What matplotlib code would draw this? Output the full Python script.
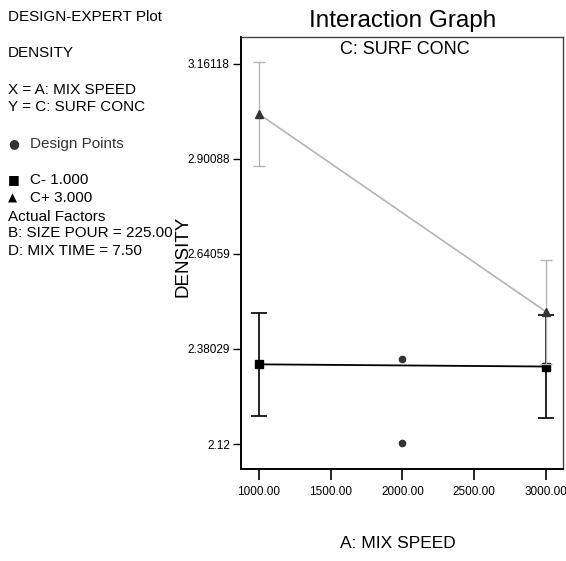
import matplotlib.pyplot as plt

# data
speeds = [1000, 3000]
c_minus = [2.338, 2.332]
c_minus_err = [0.141, 0.142]
c_plus = [3.023, 2.482]
c_plus_err = [0.142, 0.142]
design_x = [2000, 2000]
design_y = [2.353, 2.122]

y_ticks = [2.12, 2.38029, 2.64059, 2.90088, 3.16118]
y_tick_labels = ['2.12', '2.38029', '2.64059', '2.90088', '3.16118']
x_ticks = [1000, 1500, 2000, 2500, 3000]
x_tick_labels = ['1000.00', '1500.00', '2000.00', '2500.00', '3000.00']

plt.rcParams['font.family'] = ['Liberation Sans', 'DejaVu Sans']

W, H = 566, 561
fig = plt.figure(figsize=(W / 100, H / 100), dpi=100)
ax = fig.add_axes([241 / W, 1 - 469 / H, (563 - 241) / W, (469 - 37) / H])


def px(x, y):
    # pixel position -> figure fraction
    return x / W, 1 - y / H


# C- (black, squares)
ax.errorbar(speeds, c_minus, yerr=c_minus_err, color='black', lw=1.3,
            capsize=5.5, capthick=1.2, elinewidth=1.2, marker='s',
            markersize=5.5, zorder=2)
# C+ (light grey, triangles)
ax.errorbar(speeds, c_plus, yerr=c_plus_err, color='#b4b4b4', lw=1.2,
            capsize=4, capthick=1.0, elinewidth=1.0, marker='^',
            markersize=6, mfc='#333333', mec='#333333', zorder=3)
# design points
ax.plot(design_x, design_y, 'o', color='#333333', markersize=4.5, zorder=4)

ax.set_xlim(874.6, 3118.5)
ax.set_ylim(2.0516, 3.2337)
ax.set_xticks(x_ticks)
ax.set_xticklabels(x_tick_labels, fontsize=8.5)
ax.set_yticks(y_ticks)
ax.set_yticklabels(y_tick_labels, fontsize=8.5)
ax.tick_params(axis='x', direction='out', length=8, width=1.2, pad=4)
ax.tick_params(axis='y', direction='out', length=6, width=1.0, pad=2)

ax.spines['left'].set_linewidth(1.4)
ax.spines['bottom'].set_linewidth(1.4)
ax.spines['top'].set_linewidth(1.0)
ax.spines['right'].set_linewidth(1.0)
ax.spines['top'].set_color('#444444')
ax.spines['right'].set_color('#444444')

# titles and axis labels
fig.text(*px(403, 21), 'Interaction Graph', fontsize=17.5, ha='center', va='center')
fig.text(*px(405, 50), 'C: SURF CONC', fontsize=13, ha='center', va='center')
fig.text(*px(183, 256), 'DENSITY', fontsize=13.5, rotation=90, ha='center', va='center')
fig.text(*px(398, 543), 'A: MIX SPEED', fontsize=12.5, ha='center', va='center')

# left info panel
left = 8
panel = [
    (17, 'DESIGN-EXPERT Plot'),
    (53, 'DENSITY'),
    (90, 'X = A: MIX SPEED'),
    (107, 'Y = C: SURF CONC'),
    (217, 'Actual Factors'),
    (233, 'B: SIZE POUR = 225.00'),
    (251, 'D: MIX TIME = 7.50'),
]
for y, s in panel:
    fig.text(*px(left, y), s, fontsize=11, ha='left', va='center')

fig.text(*px(left, 144), '\u25cf', fontsize=9, ha='left', va='center', color='#333333',
         family='DejaVu Sans')
fig.text(*px(left + 22, 144), 'Design Points', fontsize=11, ha='left', va='center', color='#333333')
fig.text(*px(left, 180), '\u25a0', fontsize=9, ha='left', va='center', family='DejaVu Sans')
fig.text(*px(left + 22, 180), 'C- 1.000', fontsize=11, ha='left', va='center')
fig.text(*px(left, 198), '\u25b2', fontsize=8.5, ha='left', va='center', family='DejaVu Sans')
fig.text(*px(left + 22, 198), 'C+ 3.000', fontsize=11, ha='left', va='center')

fig.savefig('out.png', dpi=100)
